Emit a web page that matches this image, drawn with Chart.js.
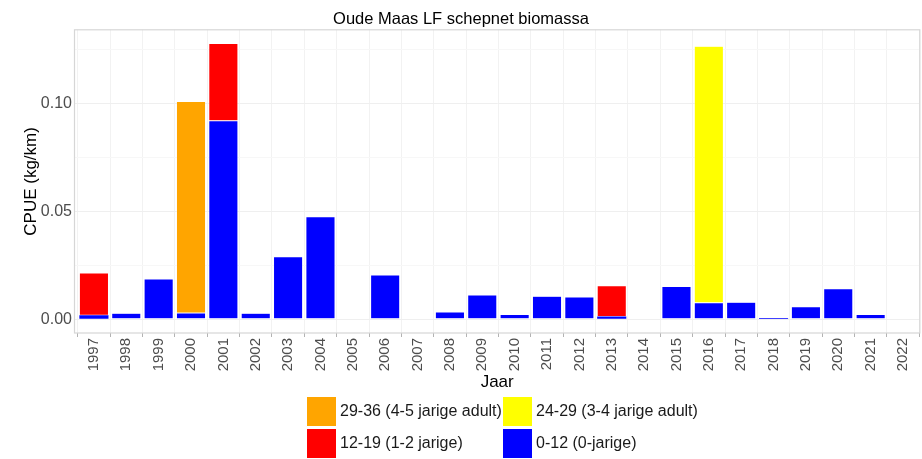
<!DOCTYPE html>
<html>
<head>
<meta charset="utf-8">
<script src="https://cdn.jsdelivr.net/npm/chart.js@4"></script>
<style>
html, body { margin: 0; padding: 0; background: #fff; overflow: hidden; }
</style>
</head>
<body>
<canvas id="bar-chart" width="922" height="459"></canvas>
<script>
// jaren (x-as)
let jaren = [1997, 1998, 1999, 2000, 2001, 2002, 2003, 2004, 2005, 2006, 2007, 2008, 2009,
             2010, 2011, 2012, 2013, 2014, 2015, 2016, 2017, 2018, 2019, 2020, 2021, 2022];

// CPUE (kg/km) per lengteklasse
let klasse0_12 = [0.0018, 0.0027, 0.0186, 0.0029, 0.0919, 0.0027, 0.0289, 0.0475, null, 0.0205, null, 0.0033, 0.0112,
                  0.0022, 0.0106, 0.0103, 0.0012, null, 0.0152, 0.0076, 0.0078, 0.0006, 0.0058, 0.0141, 0.0022, null];
let klasse12_19 = [0.0196, null, null, null, 0.0358, null, null, null, null, null, null, null, null,
                   null, null, null, 0.0143, null, null, null, null, null, null, null, null, null];
let klasse24_29 = [null, null, null, null, null, null, null, null, null, null, null, null, null,
                   null, null, null, null, null, null, 0.1189, null, null, null, null, null, null];
let klasse29_36 = [null, null, null, 0.0980, null, null, null, null, null, null, null, null, null,
                   null, null, null, null, null, null, null, null, null, null, null, null, null];

// y-as breaks (major + minor)
let yBreaks = [0, 0.025, 0.05, 0.075, 0.10, 0.125];

function isMajor(v) {
  return Math.abs(v / 0.05 - Math.round(v / 0.05)) < 1e-6;
}

Chart.defaults.font.family = '"Liberation Sans", Arial, sans-serif';

// legenda 2x2 zoals in ggplot
const legendGrid = {
  id: 'legendGrid',
  afterDraw(chart) {
    const ctx = chart.ctx;
    const order = [3, 2, 1, 0];
    const colX = [307, 503];
    const rowY = [397, 429];
    ctx.save();
    ctx.font = '16px "Liberation Sans", Arial, sans-serif';
    ctx.textBaseline = 'middle';
    ctx.textAlign = 'left';
    order.forEach(function (di, k) {
      const ds = chart.data.datasets[di];
      const x = colX[k % 2];
      const y = rowY[Math.floor(k / 2)];
      ctx.fillStyle = ds.backgroundColor;
      ctx.fillRect(x, y, 29, 29);
      ctx.fillStyle = '#1a1a1a';
      ctx.fillText(ds.label, x + 33, y + 15);
    });
    ctx.restore();
  }
};

// paneelrand
const panelBorder = {
  id: 'panelBorder',
  beforeDatasetsDraw(chart) {
    const a = chart.chartArea;
    const ctx = chart.ctx;
    ctx.save();
    ctx.strokeStyle = '#d6d6d6';
    ctx.lineWidth = 1.2;
    ctx.strokeRect(a.left, a.top, a.right - a.left, a.bottom - a.top);
    ctx.restore();
  }
};

new Chart(document.getElementById('bar-chart'), {
  type: 'bar',
  data: {
    labels: jaren,
    datasets: [
      { label: '0-12 (0-jarige)', data: klasse0_12, backgroundColor: '#0000FF' },
      { label: '12-19 (1-2 jarige)', data: klasse12_19, backgroundColor: '#FF0000' },
      { label: '24-29 (3-4 jarige adult)', data: klasse24_29, backgroundColor: '#FFFF00' },
      { label: '29-36 (4-5 jarige adult)', data: klasse29_36, backgroundColor: '#FFA500' }
    ]
  },
  options: {
    responsive: false,
    animation: false,
    layout: { padding: { left: 0, right: 0, top: 0, bottom: 66 } },
    datasets: {
      bar: {
        barPercentage: 0.9,
        categoryPercentage: 1,
        borderColor: 'rgba(255,255,255,0.6)',
        borderWidth: function (c) { return Math.abs(c.raw || 0) < 0.002 ? 0 : 0.5; },
        borderSkipped: false
      }
    },
    plugins: {
      legend: { display: false },
      tooltip: { enabled: false },
      title: {
        display: true,
        text: 'Oude Maas LF schepnet biomassa',
        color: '#000',
        font: { size: 16.5, weight: 'normal' },
        padding: { top: 10, bottom: 0 }
      }
    },
    scales: {
      x: {
        type: 'linear',
        stacked: true,
        min: 1996.4,
        max: 2022.52,
        offset: false,
        afterBuildTicks: function (s) { s.ticks = jaren.map(function (v) { return { value: v }; }); },
        afterFit: function (s) { s.height = 60; },
        ticks: {
          callback: function (v) { return String(v); },
          autoSkip: false,
          minRotation: 90,
          maxRotation: 90,
          padding: 1,
          color: '#4d4d4d',
          font: { size: 15 }
        },
        grid: { color: '#f2f2f2', tickColor: '#b3b3b3', tickLength: 4 },
        border: { display: false },
        title: {
          display: true,
          text: 'Jaar',
          color: '#000',
          font: { size: 17 },
          padding: { top: 0, bottom: 0 }
        }
      },
      y: {
        stacked: true,
        min: -0.0064,
        max: 0.1341,
        afterBuildTicks: function (s) { s.ticks = yBreaks.map(function (v) { return { value: v }; }); },
        afterFit: function (s) { s.width = 74.5; },
        ticks: {
          callback: function (v) { return isMajor(v) ? v.toFixed(2) : ''; },
          padding: 2.5,
          color: '#4d4d4d',
          font: { size: 16 }
        },
        grid: {
          color: function (c) { return isMajor(c.tick.value) ? '#efefef' : '#f7f7f7'; },
          drawTicks: false
        },
        border: { display: false },
        title: {
          display: true,
          text: 'CPUE (kg/km)',
          color: '#000',
          font: { size: 17 },
          padding: { top: 21, bottom: 0 }
        }
      }
    }
  },
  plugins: [legendGrid, panelBorder]
});
</script>
</body>
</html>
